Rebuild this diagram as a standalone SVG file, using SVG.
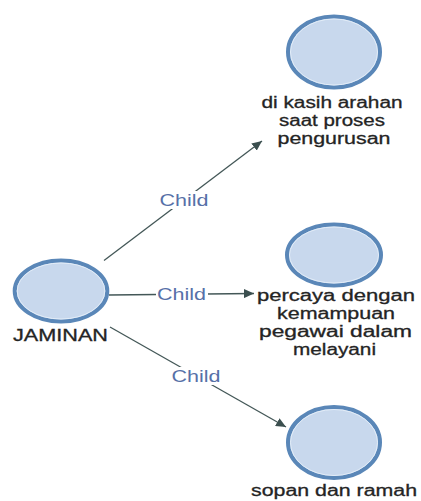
<svg xmlns="http://www.w3.org/2000/svg" width="421" height="501" viewBox="0 0 421 501">
  <style>
    .node-shape { fill: #c8d8ed; stroke: #5a87b8; stroke-width: 4; }
    .node-hi { fill: none; stroke: #e3edf8; stroke-width: 1; }
    .node-label { font-family: "Liberation Sans", Arial, sans-serif; font-size: 16px; fill: #242424; stroke: #242424; stroke-width: 0.3; text-anchor: middle; }
    .edge { stroke: #435757; stroke-width: 1.3; fill: none; marker-end: url(#arrow); }
    .edge-bg { fill: #ffffff; }
    .edge-label { font-family: "Liberation Sans", Arial, sans-serif; font-size: 16px; fill: #5670a8; text-anchor: middle; }
  </style>
  <defs>
    <marker id="arrow" markerUnits="userSpaceOnUse" markerWidth="11" markerHeight="9" refX="10" refY="4.5" orient="auto">
      <path d="M0,0 L10,4.5 L0,9 Z" fill="#3b4f4f"/>
    </marker>
  </defs>
  <rect width="421" height="501" fill="#ffffff"/>

  <!-- connectors -->
  <g id="connectors">
    <line class="edge" x1="104" y1="260.5" x2="262" y2="141"/>
    <rect class="edge-bg" x="158" y="191" width="52" height="18"/>
    <text class="edge-label" x="184" y="206" textLength="49" lengthAdjust="spacingAndGlyphs">Child</text>

    <line class="edge" x1="109" y1="295" x2="254" y2="293.5"/>
    <rect class="edge-bg" x="156" y="285" width="52" height="17"/>
    <text class="edge-label" x="181.5" y="299.5" textLength="49" lengthAdjust="spacingAndGlyphs">Child</text>

    <line class="edge" x1="110" y1="327" x2="286" y2="427"/>
    <rect class="edge-bg" x="170" y="367" width="52" height="18"/>
    <text class="edge-label" x="196" y="382" textLength="49" lengthAdjust="spacingAndGlyphs">Child</text>
  </g>

  <!-- root node -->
  <g id="node-jaminan">
    <ellipse class="node-shape" cx="61" cy="291" rx="46.3" ry="30.5"/>
    <ellipse class="node-hi" cx="61" cy="291" rx="43.8" ry="28"/>
    <text class="node-label" x="60.5" y="340.5" font-size="18" textLength="95" lengthAdjust="spacingAndGlyphs">JAMINAN</text>
  </g>

  <!-- child nodes -->
  <g id="node-arahan">
    <ellipse class="node-shape" cx="334" cy="52" rx="46" ry="35.5"/>
    <ellipse class="node-hi" cx="334" cy="52" rx="43.5" ry="33"/>
    <text class="node-label" x="332" y="108" textLength="141" lengthAdjust="spacingAndGlyphs">di kasih arahan</text>
    <text class="node-label" x="332" y="126" textLength="106" lengthAdjust="spacingAndGlyphs">saat proses</text>
    <text class="node-label" x="334" y="144" textLength="113" lengthAdjust="spacingAndGlyphs">pengurusan</text>
  </g>

  <g id="node-percaya">
    <ellipse class="node-shape" cx="334" cy="255" rx="47" ry="30.5"/>
    <ellipse class="node-hi" cx="334" cy="255" rx="44.5" ry="28"/>
    <text class="node-label" x="336" y="301" textLength="158" lengthAdjust="spacingAndGlyphs">percaya dengan</text>
    <text class="node-label" x="336" y="319" textLength="118" lengthAdjust="spacingAndGlyphs">kemampuan</text>
    <text class="node-label" x="335.5" y="337" textLength="153" lengthAdjust="spacingAndGlyphs">pegawai dalam</text>
    <text class="node-label" x="334.5" y="355" textLength="83" lengthAdjust="spacingAndGlyphs">melayani</text>
  </g>

  <g id="node-sopan">
    <ellipse class="node-shape" cx="334" cy="442.5" rx="46" ry="35.5"/>
    <ellipse class="node-hi" cx="334" cy="442.5" rx="43.5" ry="33"/>
    <text class="node-label" x="334" y="496" textLength="166" lengthAdjust="spacingAndGlyphs">sopan dan ramah</text>
  </g>
</svg>
